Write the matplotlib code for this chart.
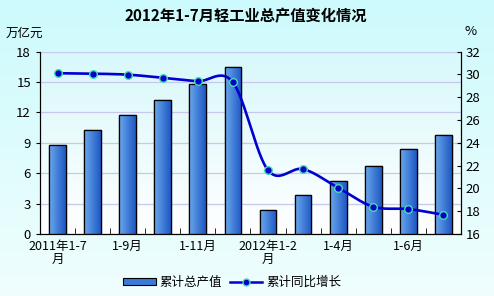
import matplotlib.pyplot as plt
import numpy as np
from matplotlib.colors import LinearSegmentedColormap

plt.rcParams['font.family'] = ['Noto Sans CJK SC', 'DejaVu Sans']

# 数据
categories = ['2011年1-7\n月', '1-8月', '1-9月', '1-10月', '1-11月', '1-12月',
              '2012年1-2\n月', '1-3月', '1-4月', '1-5月', '1-6月', '1-7月']
output_value = [8.78, 10.27, 11.75, 13.24, 14.82, 16.5, 2.35, 3.83, 5.22, 6.7, 8.37, 9.77]
growth_rate = [30.1, 30.06, 29.97, 29.7, 29.4, 29.3, 21.6, 21.7, 20.06, 18.4, 18.2, 17.7]
shown_ticks = [0, 2, 4, 6, 8, 10]


def catmull_rom(x, y, n=30):
    # 平滑曲线（类似 Excel 的平滑线）
    x = np.asarray(x, float)
    y = np.asarray(y, float)
    px = np.concatenate([[2 * x[0] - x[1]], x, [2 * x[-1] - x[-2]]])
    py = np.concatenate([[2 * y[0] - y[1]], y, [2 * y[-1] - y[-2]]])
    xs, ys = [], []
    t = np.linspace(0, 1, n)
    for i in range(1, len(px) - 2):
        for arr, out in ((px, xs), (py, ys)):
            p0, p1, p2, p3 = arr[i - 1], arr[i], arr[i + 1], arr[i + 2]
            out.extend(0.5 * ((2 * p1) + (-p0 + p2) * t +
                              (2 * p0 - 5 * p1 + 4 * p2 - p3) * t ** 2 +
                              (-p0 + 3 * p1 - 3 * p2 + p3) * t ** 3))
    return np.array(xs), np.array(ys)


fig = plt.figure(figsize=(4.94, 2.96), dpi=100)

# 背景渐变
bg = fig.add_axes([0, 0, 1, 1], zorder=-10)
bg_cmap = LinearSegmentedColormap.from_list('bg', ['#cdfafc', '#f0fefe'])
bg.imshow(np.linspace(0, 1, 100).reshape(-1, 1), aspect='auto', cmap=bg_cmap,
          extent=[0, 1, 0, 1], origin='upper')
bg.axis('off')

ax = fig.add_axes([0.081, 0.209, 0.852, 0.617])
x = np.arange(len(categories))

# 绘图区渐变
pa_cmap = LinearSegmentedColormap.from_list('pa', ['#d8f8fb', '#ffffff'])
ax.imshow(np.linspace(0, 1, 100).reshape(-1, 1), aspect='auto', cmap=pa_cmap,
          extent=[-0.5, len(categories) - 0.5, 0, 18], origin='upper', zorder=0)

bars = ax.bar(x, output_value, width=0.48, color='#3c7ad8', edgecolor='black',
              linewidth=0.9, zorder=3, label='累计总产值')
bar_cmap = LinearSegmentedColormap.from_list('bar', ['#6aa8ec', '#1e58c4'])
for b in bars:
    bx, by = b.get_x(), b.get_y()
    im = ax.imshow(np.linspace(0, 1, 50).reshape(1, -1), aspect='auto', cmap=bar_cmap,
                   extent=[bx, bx + b.get_width(), by, by + b.get_height()], zorder=3.5)
    im.set_clip_path(b)
    ax.bar(b.get_x() + b.get_width() / 2, b.get_height(), width=b.get_width(),
           fill=False, edgecolor='black', linewidth=0.9, zorder=4)

ax.set_xlim(-0.5, len(categories) - 0.5)
ax.set_ylim(0, 18)
ax.set_yticks(np.arange(0, 19, 3))
ax.yaxis.grid(True, color='#c8c8ec', linewidth=0.9, zorder=1)
ax.set_axisbelow(True)
ax.set_xticks([i for i in shown_ticks])
ax.set_xticklabels([categories[i] for i in shown_ticks], fontsize=9, linespacing=1.0)
ax.set_xticks(np.arange(len(categories)) + 0.5, minor=True)
ax.tick_params(axis='x', which='major', length=0, pad=4)
ax.tick_params(axis='x', which='minor', direction='in', length=4)
ax.tick_params(axis='y', labelsize=9.5, direction='out', length=3)
ax.spines['top'].set_visible(False)

ax2 = ax.twinx()
sx, sy = catmull_rom(x, growth_rate)
ax2.plot(sx, sy, color='#0000d0', linewidth=1.9, zorder=5)
ax2.plot(x, growth_rate, linestyle='none', marker='o', markersize=5.5,
         markerfacecolor='#0000c8', markeredgecolor='#40e0b0', markeredgewidth=1, zorder=6)
ax2.set_ylim(16, 32)
ax2.set_yticks(np.arange(16, 33, 2))
ax2.tick_params(axis='y', labelsize=9.5, direction='in', length=3)
ax2.spines['top'].set_visible(False)

fig.text(0.497, 0.945, '2012年1-7月轻工业总产值变化情况', ha='center', va='center',
         fontsize=11, fontweight='bold')
fig.text(0.05, 0.888, '万亿元', ha='center', va='center', fontsize=9)
fig.text(0.952, 0.895, '%', ha='center', va='center', fontsize=9.5)

line_handle = plt.Line2D([], [], color='#0000d0', linewidth=1.8, marker='o', markersize=5,
                         markerfacecolor='#0000c8', markeredgecolor='#40e0b0')
bar_handle = plt.Rectangle((0, 0), 1, 1, facecolor='#3c7ad8', edgecolor='black', linewidth=0.8)
fig.legend([bar_handle, line_handle], ['累计总产值', '累计同比增长'], loc='center',
           bbox_to_anchor=(0.47, 0.045), ncol=2, frameon=False, fontsize=9,
           handlelength=2.6, handleheight=0.5, handletextpad=0.3, columnspacing=0.6)

fig.savefig('out.png', dpi=100)
